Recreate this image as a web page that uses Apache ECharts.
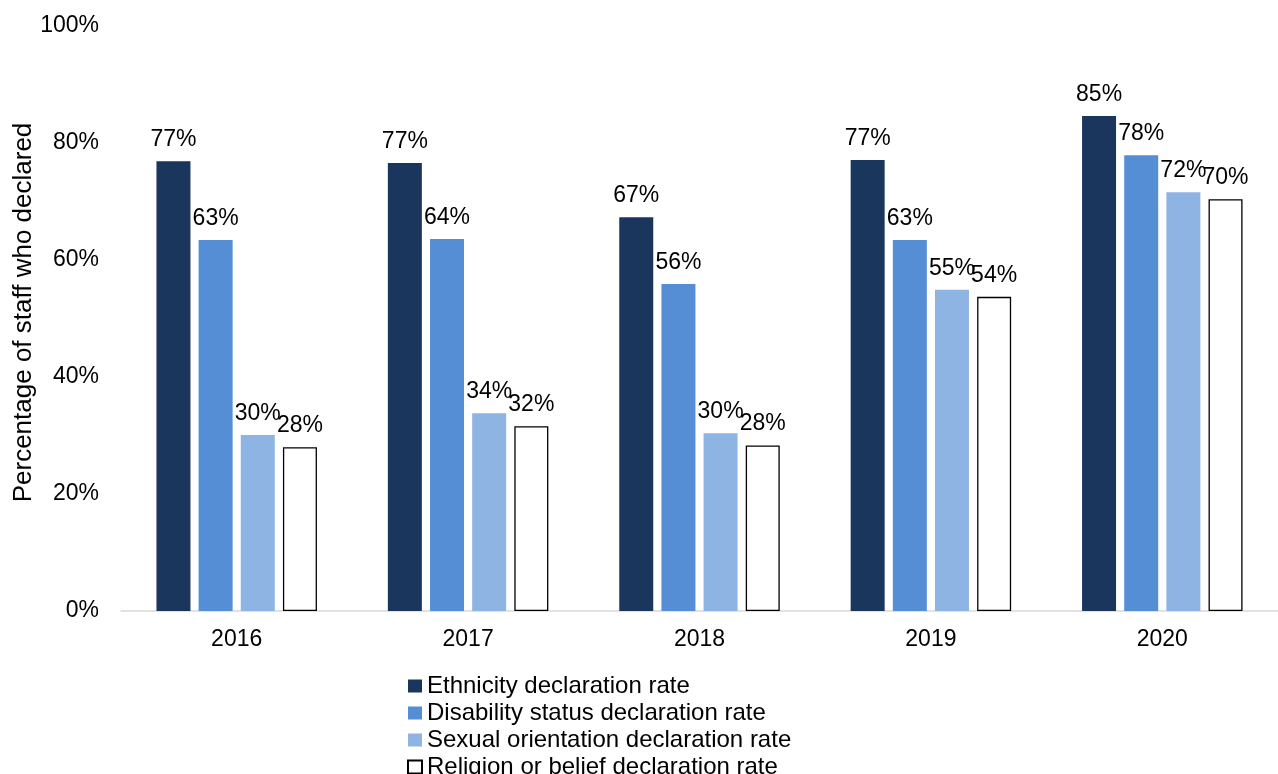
<!DOCTYPE html>
<html>
<head>
<meta charset="utf-8">
<script src="https://cdn.jsdelivr.net/npm/echarts@6/dist/echarts.min.js"></script>
<style>
  html, body { margin: 0; padding: 0; background: #fff; }
  #chart { width: 1278px; height: 774px; }
</style>
</head>
<body>
<div id="chart"></div>
<script>
  // values (percent)
  const years = ['2016', '2017', '2018', '2019', '2020'];
  const ethnicity = [76.9, 76.6, 67.3, 77.1, 84.6];
  const disability = [63.4, 63.6, 55.9, 63.4, 77.9];
  const sexualOrientation = [30.1, 33.8, 30.4, 54.9, 71.6];
  const religion = [28.0, 31.6, 28.3, 53.7, 70.4];
  const seriesNames = [
    'Ethnicity declaration rate',
    'Disability status declaration rate',
    'Sexual orientation declaration rate',
    'Religion or belief declaration rate'
  ];

  const font = 'Arial';

  function makeBar(name, data, color, border) {
    return {
      name: name,
      type: 'bar',
      data: data,
      barWidth: 34,
      barGap: '24%',
      itemStyle: {
        color: color,
        borderColor: border || color,
        borderWidth: border ? 1.3 : 0
      },
      label: {
        show: true,
        position: 'top',
        distance: 10,
        fontSize: 23,
        fontFamily: font,
        color: '#000',
        formatter: p => Math.round(p.value) + '%'
      }
    };
  }

  const myChart = echarts.init(document.getElementById('chart'));
  const option = {
    animation: false,
    textStyle: { fontFamily: font },
    grid: { left: 121, right: 0, top: 26, bottom: 163, containLabel: false, outerBoundsMode: 'none' },
    legend: {
      orient: 'vertical',
      left: 402,
      top: 669,
      height: 140,
      itemWidth: 14,
      itemHeight: 13,
      itemGap: 3,
      icon: 'rect',
      textStyle: { fontSize: 24, fontFamily: font, color: '#000' },
      data: seriesNames
    },
    xAxis: {
      type: 'category',
      data: years,
      axisLine: { lineStyle: { color: '#d9d9d9', width: 1.5 } },
      axisTick: { show: false },
      axisLabel: { fontSize: 23, fontFamily: font, color: '#000', margin: 17 }
    },
    yAxis: {
      type: 'value',
      min: 0,
      max: 100,
      interval: 20,
      name: 'Percentage of staff who declared',
      nameLocation: 'middle',
      nameGap: 84,
      nameMoveOverlap: false,
      nameTextStyle: { fontSize: 26, fontFamily: font, color: '#000', padding: [0, 0, 0, 12] },
      splitLine: { show: false },
      axisLine: { show: false },
      axisTick: { show: false },
      axisLabel: {
        fontSize: 23, fontFamily: font, color: '#000', margin: 22,
        formatter: v => v + '%'
      }
    },
    series: [
      makeBar(seriesNames[0], ethnicity, '#1a365d'),
      makeBar(seriesNames[1], disability, '#558ed5'),
      makeBar(seriesNames[2], sexualOrientation, '#8eb4e3'),
      makeBar(seriesNames[3], religion, '#ffffff', '#000000')
    ]
  };
  myChart.setOption(option);
</script>
</body>
</html>
